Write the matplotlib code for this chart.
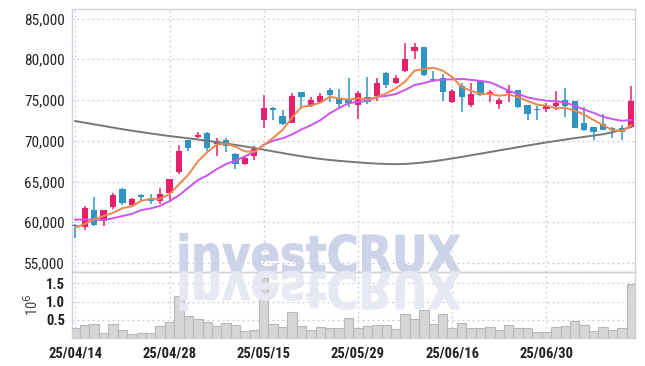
import numpy as np
import pandas as pd
import matplotlib
matplotlib.use('Agg')
import matplotlib.pyplot as plt
from matplotlib.textpath import TextPath
from matplotlib.patches import PathPatch
from matplotlib.font_manager import FontProperties
from matplotlib.transforms import Affine2D, IdentityTransform

# trading days (KRX closed on these)
holidays = ['2025-05-01', '2025-05-05', '2025-05-06', '2025-06-03', '2025-06-06']
days = pd.bdate_range('2025-04-14', '2025-07-11')
days = [d for d in days if d.strftime('%Y-%m-%d') not in holidays]

opens = [59700, 59400, 61500, 60200, 61830, 64070, 62110, 63330, 62930, 62640,
         63620, 66180, 70040, 70450, 70950, 69600, 70050, 68350, 67150, 68180,
         72520, 74050, 73020, 72190, 75950, 74300, 74750, 76240, 75200, 75040,
         74350, 75370, 75450, 78290, 77030, 78620, 81060, 81460, 77560, 77680,
         74720, 76670, 74350, 77360, 75730, 74510, 75900, 76230, 74390, 73810,
         73850, 74300, 75000, 74880, 72130, 71640, 72050, 71520, 71600, 71640]
highs = [59800, 62000, 63130, 61500, 63540, 64150, 62930, 63460, 63460, 64150,
         65370, 69430, 70100, 71060, 71100, 70300, 70300, 68450, 68180, 69300,
         75620, 74170, 73760, 75820, 76030, 75410, 75820, 76440, 76320, 77680,
         76060, 77800, 77680, 78410, 78090, 81950, 81950, 81460, 78620, 78170,
         76340, 77070, 77070, 77480, 76230, 75200, 76850, 76230, 74390, 74260,
         74590, 76100, 76520, 74880, 74180, 71640, 73240, 71720, 71930, 76760]
lows = [58050, 59070, 59550, 59500, 61590, 62100, 61990, 62640, 62240, 62240,
        62520, 65980, 68700, 70370, 68700, 68150, 68650, 66500, 67030, 67650,
        71610, 72600, 71900, 72190, 73880, 74170, 74670, 74710, 73840, 74100,
        72680, 74510, 74920, 76460, 76950, 78500, 80040, 78000, 77200, 74840,
        74630, 73540, 74100, 75450, 74760, 73850, 74800, 74060, 72540, 72540,
        73480, 73770, 72950, 71520, 71190, 70080, 71310, 70290, 70080, 71640]
closes = [59500, 61700, 59700, 61500, 63330, 62400, 62850, 63130, 62640, 63450,
          65300, 68700, 69100, 70770, 69150, 70000, 69300, 67150, 67850, 69000,
          74050, 73760, 72020, 75490, 75410, 75000, 75490, 75580, 74500, 74670,
          75850, 74720, 77070, 76790, 77680, 80040, 81460, 78090, 77480, 75940,
          76140, 75330, 75770, 75570, 75980, 75000, 76100, 74140, 73240, 73730,
          74300, 74590, 74300, 71600, 71310, 71020, 71310, 71310, 71020, 74880]
# volume, in millions of shares
volume = [0.28, 0.37, 0.39, 0.15, 0.39, 0.22, 0.11, 0.15, 0.15, 0.33,
          0.45, 1.14, 0.61, 0.53, 0.45, 0.34, 0.42, 0.36, 0.19, 0.22,
          1.65, 0.39, 0.29, 0.72, 0.33, 0.22, 0.30, 0.28, 0.28, 0.56,
          0.28, 0.34, 0.36, 0.36, 0.25, 0.65, 0.53, 0.76, 0.39, 0.67,
          0.28, 0.42, 0.28, 0.28, 0.31, 0.22, 0.36, 0.28, 0.28, 0.17,
          0.17, 0.31, 0.33, 0.47, 0.36, 0.19, 0.31, 0.22, 0.28, 1.47]
ma5 = [59350, 59800, 60370, 60770, 61150, 61730, 61960, 62640, 62870, 62890,
       63470, 64640, 65840, 67460, 68600, 69540, 69660, 69270, 68690, 68660,
       69470, 70360, 71340, 72860, 74150, 74340, 74680, 75390, 75200, 75050,
       75220, 75060, 75360, 75820, 76420, 77260, 78610, 78810, 78950, 78600,
       77820, 76590, 76130, 75750, 75760, 75530, 75680, 75360, 74890, 74440,
       74300, 74000, 74030, 73700, 73220, 72560, 71910, 71310, 71190, 71910]
ma10 = [60330, 60330, 60330, 60290, 60490, 60770, 61020, 61500, 61700, 62020,
        62600, 63300, 64240, 65170, 65750, 66510, 67150, 67560, 68080, 68630,
        69510, 70010, 70310, 70780, 71400, 71900, 72520, 73370, 74030, 74600,
        74780, 74870, 75380, 75510, 75730, 76240, 76840, 77090, 77390, 77510,
        77540, 77600, 77470, 77350, 77180, 76680, 76140, 75740, 75320, 75100,
        74920, 74840, 74700, 74300, 73830, 73430, 72950, 72670, 72450, 72560]
ma_long = [72420, 72220, 72020, 71820, 71620, 71420, 71240, 71070, 70900, 70740,
           70580, 70440, 70300, 70160, 70000, 69840, 69670, 69490, 69300, 69110,
           68910, 68700, 68490, 68290, 68100, 67930, 67780, 67650, 67540, 67440,
           67350, 67270, 67200, 67150, 67130, 67160, 67240, 67350, 67490, 67650,
           67830, 68020, 68220, 68420, 68620, 68820, 69020, 69220, 69420, 69610,
           69800, 69980, 70150, 70320, 70480, 70640, 70800, 71050, 71350, 71690]
tick_idx = [0, 10, 20, 30, 40, 50]

plt.rcParams['font.family'] = ['Roboto Condensed', 'DejaVu Sans']

W, H = 645, 366
fig = plt.figure(figsize=(W / 100, H / 100), dpi=100)
left, right = 72 / W, 635 / W
ax = fig.add_axes([left, 1 - 272 / H, right - left, (272 - 9) / H])
axv = fig.add_axes([left, 1 - 338 / H, right - left, (338 - 272) / H], sharex=ax)

x = np.arange(len(days))
o = np.array(opens); c = np.array(closes)
up = c >= o
red, blue = '#e8206c', '#2f93c6'
cols = np.where(up, red, blue)

grid_kw = dict(color='#c8c8dc', linestyle=(0, (1.5, 2.5)), linewidth=0.9)

# price panel
ax.vlines(x, lows, highs, colors=cols, linewidth=1.1, zorder=3)
body = np.maximum(np.abs(c - o), 120)
ax.bar(x, body, bottom=np.minimum(o, c), width=0.66, color=cols, zorder=4)
ax.plot(x, ma_long, color='#777777', lw=1.4, zorder=5)
ax.plot(x, ma10, color='#cc55ee', lw=1.4, zorder=5)
ax.plot(x, ma5, color='#f0874c', lw=1.4, zorder=6)

ax.set_ylim(53900, 86170)
ax.set_yticks(np.arange(55000, 85001, 5000))
ax.set_yticklabels([f'{v:,}' for v in range(55000, 85001, 5000)])
ax.set_xlim(-0.35, len(days) - 0.6)
ax.grid(True, **grid_kw)
ax.tick_params(axis='x', labelbottom=False, length=0)
ax.tick_params(axis='y', length=0, pad=5, labelsize=11, labelcolor='#222222')

# volume panel
axv.bar(x, volume, width=1.0, color='#d6d6d6', edgecolor='#b8b8b8', linewidth=0.8, zorder=3)
axv.set_ylim(0, 1.81)
axv.set_yticks([0.5, 1.0, 1.5])
axv.set_yticklabels(['0.5', '1.0', '1.5'])
axv.set_ylabel('10$^6$', fontsize=10.5, color='#444444', labelpad=4)
axv.set_xticks(tick_idx)
axv.set_xticklabels([days[i].strftime('%y/%m/%d') for i in tick_idx])
axv.grid(True, **grid_kw)
axv.tick_params(axis='y', length=0, pad=5, labelsize=10.5, labelcolor='#222222')
axv.tick_params(axis='x', length=0, pad=6, labelsize=10.5, labelcolor='#222222')
for lab in axv.get_xticklabels() + axv.get_yticklabels():
    lab.set_fontweight('bold')

for a in (ax, axv):
    a.set_axisbelow(True)
    for s in a.spines.values():
        s.set_color('#d0d0d8')
        s.set_linewidth(1.0)

# watermark and its reflection
fp = FontProperties(family='DejaVu Sans', weight='bold')
tp = TextPath((0, 0), 'investCRUX', size=100, prop=fp)
bb = tp.get_extents()
sx = 280 / bb.width
sy = 37 / 73.0
base = H - 272
mark = Affine2D().translate(-bb.x0, 0).scale(sx, sy).translate(180, base)
refl = Affine2D().translate(-bb.x0, 0).scale(sx, -sy).translate(180, base)
fig.patches.append(PathPatch(tp, transform=mark + IdentityTransform(), facecolor='#cdd3e8',
                             edgecolor='#cdd3e8', linewidth=0.8, zorder=0.5, figure=fig))
fig.patches.append(PathPatch(tp, transform=refl + IdentityTransform(), facecolor='#e6e9f2',
                             edgecolor='#e6e9f2', linewidth=0.8, zorder=0.5, figure=fig))
ax.patch.set_alpha(0)
axv.patch.set_alpha(0)

fig.savefig('out.png', dpi=100, facecolor='white')
